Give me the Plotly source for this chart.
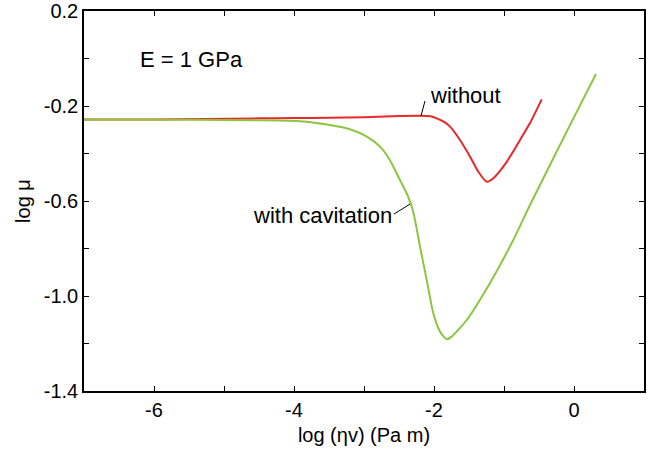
import plotly.graph_objects as go

# ---- data ----
x_without = [-7.0, -6.0, -5.3, -4.5, -4.0, -3.5, -3.0, -2.6, -2.2, -2.05, -1.96, -1.85, -1.771, -1.629,
             -1.486, -1.367, -1.247, -1.153, -0.961, -0.771, -0.629, -0.461]
y_without = [-0.257, -0.257, -0.255, -0.252, -0.251, -0.249, -0.247, -0.243, -0.241, -0.243, -0.252, -0.268,
             -0.287, -0.343, -0.413, -0.477, -0.519, -0.504, -0.435, -0.343, -0.272, -0.172]

x_cav = [-7.0, -5.5, -4.5, -3.914, -3.486, -3.2, -2.96, -2.771, -2.629, -2.486, -2.371, -2.3, -2.25, -2.2,
         -2.104, -2.01, -1.914, -1.819, -1.747, -1.533, -1.2, -0.867, -0.629, -0.081, 0.314]
y_cav = [-0.258, -0.258, -0.260, -0.264, -0.280, -0.298, -0.329, -0.371, -0.428, -0.512, -0.580, -0.642, -0.712,
         -0.792, -0.933, -1.073, -1.150, -1.182, -1.171, -1.101, -0.945, -0.764, -0.617, -0.294, -0.065]

x_tickvals = [-6, -4, -2, 0]
x_ticktext = ["-6", "-4", "-2", "0"]
y_tickvals = [0.2, -0.2, -0.6, -1.0, -1.4]
y_ticktext = ["0.2", "-0.2", "-0.6", "-1.0", "-1.4"]

FONT = "Liberation Sans, Arial, sans-serif"

fig = go.Figure()
fig.add_trace(go.Scatter(x=x_without, y=y_without, mode="lines",
                         line=dict(color="#e8282a", width=2, shape="spline", smoothing=0.6),
                         showlegend=False, name="without"))
fig.add_trace(go.Scatter(x=x_cav, y=y_cav, mode="lines",
                         line=dict(color="#8cc63f", width=2, shape="spline", smoothing=0.6),
                         showlegend=False, name="with cavitation"))

# leader lines
fig.add_shape(type="line", x0=-2.186, y0=-0.242, x1=-2.129, y1=-0.179,
              line=dict(color="black", width=1))
fig.add_shape(type="line", x0=-2.571, y0=-0.655, x1=-2.343, y1=-0.613,
              line=dict(color="black", width=1))

fig.add_annotation(x=-1.543, y=-0.154, text="without", showarrow=False,
                   font=dict(family=FONT, size=22, color="black"))
fig.add_annotation(x=-3.6, y=-0.659, text="with cavitation", showarrow=False,
                   font=dict(family=FONT, size=22, color="black"))
fig.add_annotation(x=-5.471, y=-0.006, text="E = 1 GPa", showarrow=False,
                   font=dict(family=FONT, size=22, color="black"))

axis_common = dict(showline=True, mirror="allticks", linecolor="black", linewidth=1.5,
                   ticks="inside", ticklen=5, tickwidth=1, tickcolor="black",
                   showgrid=False, zeroline=False, automargin=False,
                   tickfont=dict(family=FONT, size=20, color="black"))

fig.update_xaxes(range=[-7, 1], tickmode="array", tickvals=x_tickvals, ticktext=x_ticktext,
                 minor=dict(tick0=0, dtick=1, ticks="inside", ticklen=5, tickwidth=1, tickcolor="black"),
                 title=dict(text="log (ηv) (Pa m)", font=dict(family=FONT, size=20, color="black"), standoff=8),
                 **axis_common)
fig.update_yaxes(range=[-1.4, 0.2], tickmode="array", tickvals=y_tickvals, ticktext=y_ticktext,
                 minor=dict(tick0=0, dtick=0.2, ticks="inside", ticklen=5, tickwidth=1, tickcolor="black"),
                 title=dict(text="log μ", font=dict(family=FONT, size=20, color="black"), standoff=8),
                 **axis_common)

fig.update_layout(width=655, height=450, margin=dict(l=84, r=11, t=11, b=59),
                  plot_bgcolor="white", paper_bgcolor="white")

fig.write_html("out.html")
